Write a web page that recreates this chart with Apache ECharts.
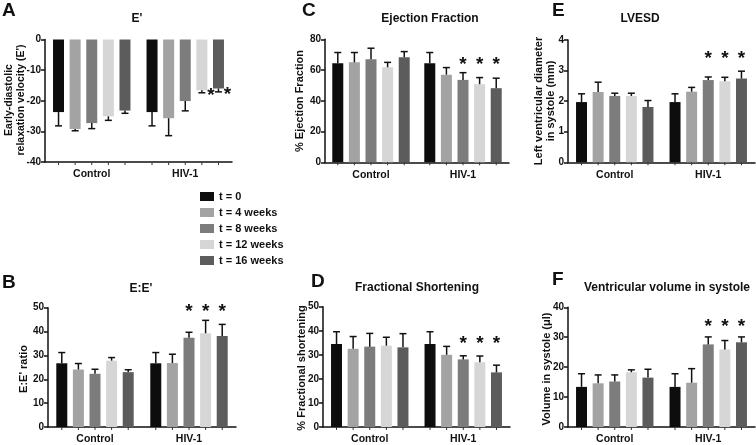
<!DOCTYPE html>
<html><head><meta charset="utf-8">
<script src="https://cdn.jsdelivr.net/npm/echarts@6/dist/echarts.min.js"></script>
<style>html,body{margin:0;padding:0;background:#fff}#c{width:756px;height:445px}</style>
</head><body><div id="c"></div>
<script>
// ---------- data ----------
const categories = ['Control', 'HIV-1'];
const timePoints = ['t = 0', 't = 4 weeks', 't = 8 weeks', 't = 12 weeks', 't = 16 weeks'];
const colors = ['#0d0d0d', '#a3a3a3', '#7c7c7c', '#d6d6d6', '#5c5c5c'];

// each row: one time point, [Control, HIV-1]
// A: E'
const aMean = [[-23.7, -23.7], [-29.2, -25.7], [-27.3, -20.1], [-25.1, -16.6], [-23.2, -16.0]];
const aErr  = [[4.5, 4.5], [0.6, 5.7], [1.8, 3.2], [1.3, 0.8], [0.9, 1.1]];
const aStar = [[0, 0], [0, 0], [0, 0], [0, 1], [0, 1]];
const aTicks = [-40, 0, 10];
// B: E:E'
const bMean = [[26.7, 26.7], [24.1, 26.8], [22.3, 37.4], [27.8, 39.3], [23.0, 38.1]];
const bErr  = [[4.5, 4.5], [2.5, 3.7], [1.9, 2.3], [1.3, 5.4], [1.0, 4.9]];
const bStar = [[0, 0], [0, 0], [0, 1], [0, 1], [0, 1]];
const bTicks = [0, 50, 10];
// C: Ejection Fraction
const cMean = [[64.4, 64.4], [65.0, 57.0], [67.0, 53.6], [61.8, 50.8], [68.3, 48.2]];
const cErr  = [[7.0, 7.0], [6.4, 4.6], [7.2, 4.7], [3.2, 4.3], [3.7, 6.5]];
const cStar = [[0, 0], [0, 0], [0, 1], [0, 1], [0, 1]];
const cTicks = [0, 80, 20];
// D: Fractional Shortening
const dMean = [[34.5, 34.5], [32.5, 30.0], [33.4, 28.1], [33.8, 26.9], [33.1, 22.7]];
const dErr  = [[5.1, 5.1], [5.1, 3.5], [5.5, 1.5], [3.5, 2.6], [5.7, 3.0]];
const dStar = [[0, 0], [0, 0], [0, 1], [0, 1], [0, 1]];
const dTicks = [0, 50, 10];
// E: LVESD
const eMean = [[1.97, 1.97], [2.30, 2.31], [2.17, 2.69], [2.17, 2.65], [1.81, 2.74]];
const eErr  = [[0.27, 0.27], [0.32, 0.14], [0.09, 0.10], [0.09, 0.13], [0.21, 0.24]];
const eStar = [[0, 0], [0, 0], [0, 1], [0, 1], [0, 1]];
const eTicks = [0, 4, 1];
// F: Ventricular volume in systole
const fMean = [[13.4, 13.4], [14.6, 14.8], [15.2, 27.6], [18.3, 25.9], [16.5, 28.3]];
const fErr  = [[4.4, 4.4], [2.8, 4.7], [2.2, 2.5], [0.8, 3.0], [2.8, 1.8]];
const fStar = [[0, 0], [0, 0], [0, 1], [0, 1], [0, 1]];
const fTicks = [0, 40, 10];

// ---------- layout ----------
const FONT = "'Liberation Sans', Arial, sans-serif";
const BAR_W = 11, GAP_RATIO = 0.51, STEP = BAR_W * (1 + GAP_RATIO);

const panels = [
  { letter: 'A', title: "E'", mean: aMean, err: aErr, star: aStar, ticks: aTicks, starLevel: null,
    yName: "Early-diastolic\nrelaxation velocity (E')", grid: { left: 45, top: 39.5, width: 187, height: 122.5 },
    titlePos: [137, 19], letterPos: [2, 1], namePos: [15, 100], nameSize: 10.5 },
  { letter: 'B', title: "E:E'", mean: bMean, err: bErr, star: bStar, ticks: bTicks, starLevel: 49.5,
    yName: "E:E' ratio", grid: { left: 48, top: 307.7, width: 188, height: 123 },
    titlePos: [141, 289], letterPos: [2, 273], namePos: [24, 369], nameSize: 11 },
  { letter: 'C', title: 'Ejection Fraction', mean: cMean, err: cErr, star: cStar, ticks: cTicks, starLevel: 65.5,
    yName: '% Ejection Fraction', grid: { left: 325, top: 39.3, width: 184, height: 123 },
    titlePos: [430, 19], letterPos: [302, 1], namePos: [300, 101], nameSize: 11 },
  { letter: 'D', title: 'Fractional Shortening', mean: dMean, err: dErr, star: dStar, ticks: dTicks, starLevel: 36,
    yName: '% Fractional shortening', grid: { left: 323, top: 306.7, width: 187, height: 123.3 },
    titlePos: [417, 288], letterPos: [311, 272], namePos: [302, 368], nameSize: 11 },
  { letter: 'E', title: 'LVESD', mean: eMean, err: eErr, star: eStar, ticks: eTicks, starLevel: 3.48,
    yName: 'Left ventricular diameter\nin systole (mm)', grid: { left: 568, top: 40, width: 187, height: 122.3 },
    titlePos: [640, 19], letterPos: [552, 1], namePos: [545, 101], nameSize: 11 },
  { letter: 'F', title: 'Ventricular volume in systole', mean: fMean, err: fErr, star: fStar, ticks: fTicks, starLevel: 34.6,
    yName: 'Volume in systole (μl)', grid: { left: 568, top: 307.3, width: 187, height: 122.7 },
    titlePos: [667, 288], letterPos: [552, 270], namePos: [547, 369], nameSize: 11 }
];

const grids = [], xAxes = [], yAxes = [], series = [], graphics = [];

function makeErrRender(starLevel, sideStar, yMin) {
  return function (params, api) {
    const cat = api.value(0), si = api.value(1), m = api.value(2), e = api.value(3), st = api.value(4);
    const dir = m < 0 ? -1 : 1;
    const base = api.coord([cat, m]);
    const end = api.coord([cat, m + dir * e]);
    const axisY = api.coord([cat, yMin])[1];
    const x = base[0] + (si - 2) * STEP;
    const children = [
      { type: 'line', shape: { x1: x, y1: base[1], x2: x, y2: end[1] }, style: { stroke: '#111', lineWidth: 1.5 } },
      { type: 'line', shape: { x1: x - 3.5, y1: end[1], x2: x + 3.5, y2: end[1] }, style: { stroke: '#111', lineWidth: 1.5 } },
      { type: 'line', shape: { x1: x, y1: axisY, x2: x, y2: axisY + 3 }, style: { stroke: '#333', lineWidth: 1 } }
    ];
    if (st) {
      let sx, sy;
      if (sideStar) { sx = x + 9; sy = end[1] + 3; }
      else { sx = x; sy = api.coord([cat, starLevel])[1] + 3; }
      children.push({ type: 'text', style: { text: '*', x: sx, y: sy, textAlign: 'center', textVerticalAlign: 'middle',
        font: 'bold 19px ' + FONT, fill: '#111' } });
    }
    return { type: 'group', children };
  };
}

panels.forEach((p, i) => {
  grids.push(Object.assign({ containLabel: false }, p.grid));
  xAxes.push({
    type: 'category', gridIndex: i, data: categories,
    axisLine: { show: true, onZero: false, lineStyle: { color: '#111', width: 1.5 } },
    axisTick: { show: false },
    axisLabel: { color: '#111', fontFamily: FONT, fontWeight: 'bold', fontSize: 10.5, margin: 7 }
  });
  yAxes.push({
    type: 'value', gridIndex: i, min: p.ticks[0], max: p.ticks[1], interval: p.ticks[2],
    axisLine: { show: true, onZero: false, lineStyle: { color: '#111', width: 1.5 } },
    axisTick: { show: true, length: 4, lineStyle: { color: '#111', width: 1.5 } },
    splitLine: { show: false },
    axisLabel: { color: '#111', fontFamily: FONT, fontWeight: 'bold', fontSize: 10, margin: 4 }
  });
  const errData = [];
  timePoints.forEach((tp, k) => {
    series.push({
      type: 'bar', name: tp, xAxisIndex: i, yAxisIndex: i,
      data: p.mean[k], barWidth: BAR_W, barGap: (GAP_RATIO * 100) + '%',
      itemStyle: { color: colors[k] }, silent: true
    });
    categories.forEach((c, ci) => errData.push([ci, k, p.mean[k][ci], p.err[k][ci], p.star[k][ci]]));
  });
  series.push({
    type: 'custom', name: 'err' + i, xAxisIndex: i, yAxisIndex: i, data: errData, z: 5,
    encode: { x: 0, y: 2 }, renderItem: makeErrRender(p.starLevel, p.starLevel === null, p.ticks[0]), silent: true
  });
  graphics.push({ type: 'text', left: p.letterPos[0], top: p.letterPos[1],
    style: { text: p.letter, font: 'bold 19px ' + FONT, fill: '#111' } });
  graphics.push({ type: 'text', x: p.titlePos[0], y: p.titlePos[1],
    style: { text: p.title, textAlign: 'center', textVerticalAlign: 'middle', font: 'bold 12px ' + FONT, fill: '#111' } });
  graphics.push({ type: 'text', x: p.namePos[0], y: p.namePos[1], rotation: Math.PI / 2,
    style: { text: p.yName, textAlign: 'center', textVerticalAlign: 'middle', font: 'bold ' + p.nameSize + 'px ' + FONT,
      lineHeight: 12, fill: '#111' } });
});

const chart = echarts.init(document.getElementById('c'), null, { renderer: 'canvas' });
chart.setOption({
  animation: false,
  backgroundColor: '#fff',
  grid: grids, xAxis: xAxes, yAxis: yAxes, series: series, graphic: graphics,
  legend: {
    data: timePoints, orient: 'vertical', left: 195, top: 185, icon: 'rect',
    itemWidth: 14, itemHeight: 9, itemGap: 3, selectedMode: false,
    textStyle: { color: '#111', fontFamily: FONT, fontWeight: 'bold', fontSize: 11, lineHeight: 13 }
  }
});
</script></body></html>
